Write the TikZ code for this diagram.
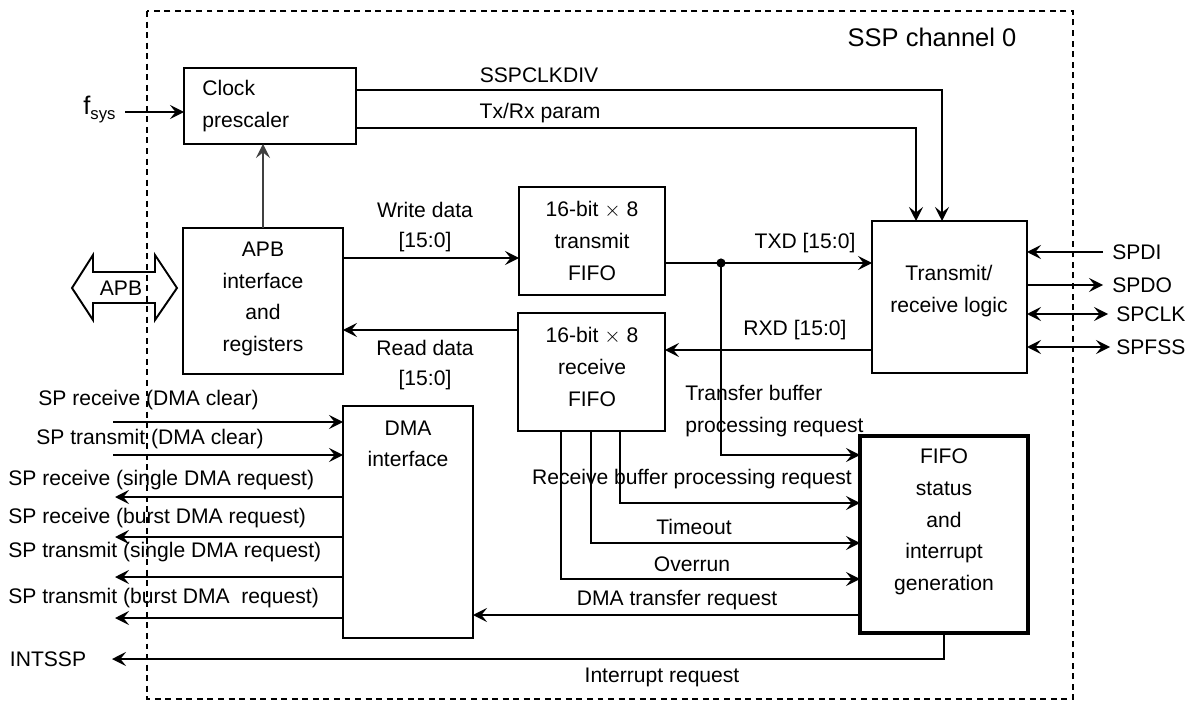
\documentclass[tikz,border=0pt]{standalone}
\usepackage{fontspec}
\setmainfont{Liberation Sans}
\usetikzlibrary{arrows.meta}
\begin{document}
\begin{tikzpicture}[x=0.02cm,y=-0.02cm,
  font=\fontsize{12}{18}\selectfont,
  box/.style={draw,line width=1.1pt,inner sep=0pt,outer sep=0pt},
  lbl/.style={inner sep=0pt,align=center},
  wire/.style={line width=1.1pt},
  arr/.style={wire,-{Stealth[length=2.8mm,width=2.8mm,inset=1.1mm]}},
  darr/.style={wire,{Stealth[length=2.8mm,width=2.8mm,inset=1.1mm]}-{Stealth[length=2.8mm,width=2.8mm,inset=1.1mm]}},
]
\path[use as bounding box] (0,0) rectangle (1196,702);
% frame
\draw[line width=0.8pt, dash pattern=on 3.4pt off 2.6pt] (147,11) rectangle (1073,699);
\node[lbl,font=\fontsize{14.5}{17}\selectfont] (title) at (932,37) {SSP channel 0};

% boxes
\node[box,minimum width=3.44cm,minimum height=1.52cm] (clk) at (270,106) {};
\node[lbl,align=left,anchor=west] (clkt) at (202,106) {Clock\\prescaler};
\node[box,minimum width=3.2cm,minimum height=2.92cm] (apb) at (263,301) {};
\node[lbl] (apbt) at (263,299) {APB\\interface\\and\\registers};
\node[box,minimum width=2.92cm,minimum height=2.16cm] (txf) at (592,241) {};
\node[lbl] (txft) at (592,241) {16-bit $\times$ 8\\transmit\\FIFO};
\node[box,minimum width=2.94cm,minimum height=2.36cm] (rxf) at (591.5,372) {};
\node[lbl] (rxft) at (592,367) {16-bit $\times$ 8\\receive\\FIFO};
\node[box,minimum width=2.6cm,minimum height=4.64cm] (dma) at (408,522) {};
\node[lbl] (dmat) at (408,444) {DMA\\interface};
\node[box,minimum width=3.1cm,minimum height=3.04cm] (trl) at (949.5,297) {};
\node[lbl] (trlt) at (949,291) {Transmit/\\receive logic};
\node[box,line width=2pt,minimum width=3.36cm,minimum height=3.94cm] (fst) at (944,534.5) {};
\node[lbl] (fstt) at (944,522) {FIFO\\status\\and\\interrupt\\generation};

% fsys
\node[lbl,anchor=west] (fsys) at (83,110) {{\fontsize{14.5}{16}\selectfont f}\raisebox{-0.45ex}{\fontsize{9.5}{11}\selectfont sys}};
\coordinate (fin) at (125,112);
\draw[arr] (fin) -- (fin -| clk.west);
\draw[arr,draw=black!75,line width=0.8pt] (apb.north) -- (apb.north |- clk.south);

% APB bus
\draw[line width=1.1pt] (72,288) -- (93,255) -- (93,272) -- (155,272) -- (155,255) -- (177,288)
  -- (155,320) -- (155,303) -- (93,303) -- (93,320) -- cycle;
\node[lbl] (apbbus) at (121,288) {APB};

% clock outputs
\coordinate (ysck) at (0,90); \coordinate (ytrx) at (0,128);
\coordinate (xsck) at (942,0); \coordinate (xtrx) at (916,0);
\draw[arr] (clk.east |- ysck) -| (xsck |- trl.north);
\draw[arr] (clk.east |- ytrx) -| (xtrx |- trl.north);
\node[lbl] (sckl) at (539,75) {SSPCLKDIV};
\node[lbl] (trxl) at (540,113) {Tx/Rx param};

% write / read data
\coordinate (yw) at (0,258);
\draw[arr] (apb.east |- yw) -- (txf.west |- yw);
\node[lbl] (wdl) at (425,210) {Write data};
\node[lbl] (wdb) at (425,242) {[15:0]};
\coordinate (yr) at (0,330);
\draw[arr] (rxf.west |- yr) -- (apb.east |- yr);
\node[lbl] (rdl) at (425,348) {Read data};
\node[lbl] (rdb) at (425,380) {[15:0]};

% TXD / RXD
\coordinate (yt) at (0,263);
\coordinate (dot) at (721,263);
\draw[arr] (txf.east |- yt) -- (trl.west |- yt);
\fill (dot) circle[radius=2.6pt];
\node[lbl] (txdl) at (805,243) {TXD [15:0]};
\coordinate (yx) at (0,350);
\draw[arr] (trl.west |- yx) -- (rxf.east |- yx);
\node[lbl] (rxdl) at (795,330) {RXD [15:0]};

% status signals
\coordinate (ytb) at (0,455);
\draw[arr] (dot) |- (fst.west |- ytb);
\node[lbl,align=left,anchor=west] (tbl) at (685,411) {Transfer buffer\\processing request};
\coordinate (xrb) at (620,0); \coordinate (yrb) at (0,503);
\draw[arr] (xrb |- rxf.south) |- (fst.west |- yrb);
\node[lbl] (rbl) at (692,479) {Receive buffer processing request};
\coordinate (xto) at (591,0); \coordinate (yto) at (0,543);
\draw[arr] (xto |- rxf.south) |- (fst.west |- yto);
\node[lbl] (tol) at (694,527) {Timeout};
\coordinate (xov) at (561,0); \coordinate (yov) at (0,579);
\draw[arr] (xov |- rxf.south) |- (fst.west |- yov);
\node[lbl] (ovl) at (692,564) {Overrun};
\coordinate (yd) at (0,615);
\draw[arr] (fst.west |- yd) -- (dma.east |- yd);
\node[lbl] (dtl) at (677,600) {DMA transfer request};

% interrupt
\node[lbl] (intssp) at (48,659) {INTSSP};
\coordinate (intend) at (112,659);
\draw[arr] (fst.south) |- (intend);
\node[lbl] (irl) at (662,677) {Interrupt request};

% DMA side signals
\coordinate (l1) at (113,422);
\draw[arr] (l1) -- (l1 -| dma.west);
\node[lbl,anchor=west] (l1t) at (38,400) {SP receive (DMA clear)};
\coordinate (l2) at (113,455);
\draw[arr] (l2) -- (l2 -| dma.west);
\node[lbl,anchor=west] (l2t) at (36,439) {SP transmit (DMA clear)};
\coordinate (l3) at (115,497);
\draw[arr] (l3 -| dma.west) -- (l3);
\node[lbl,anchor=west] (l3t) at (8,480) {SP receive (single DMA request)};
\coordinate (l4) at (115,537);
\draw[arr] (l4 -| dma.west) -- (l4);
\node[lbl,anchor=west] (l4t) at (8,518) {SP receive (burst DMA request)};
\coordinate (l5) at (115,577);
\draw[arr] (l5 -| dma.west) -- (l5);
\node[lbl,anchor=west] (l5t) at (8,552) {SP transmit (single DMA request)};
\coordinate (l6) at (115,618);
\draw[arr] (l6 -| dma.west) -- (l6);
\node[lbl,anchor=west] (l6t) at (8,598) {SP transmit (burst DMA\ \ request)};

% right side pins
\coordinate (r1) at (1103,252);
\draw[arr] (r1) -- (r1 -| trl.east);
\node[lbl,anchor=west] (r1t) at (1112,252) {SPDI};
\coordinate (r2) at (1103,285);
\draw[arr] (r2 -| trl.east) -- (r2);
\node[lbl,anchor=west] (r2t) at (1112,285) {SPDO};
\coordinate (r3) at (1108,314);
\draw[darr] (r3 -| trl.east) -- (r3);
\node[lbl,anchor=west] (r3t) at (1116,314) {SPCLK};
\coordinate (r4) at (1110,347);
\draw[darr] (r4 -| trl.east) -- (r4);
\node[lbl,anchor=west] (r4t) at (1116,347) {SPFSS};
\end{tikzpicture}
\end{document}
